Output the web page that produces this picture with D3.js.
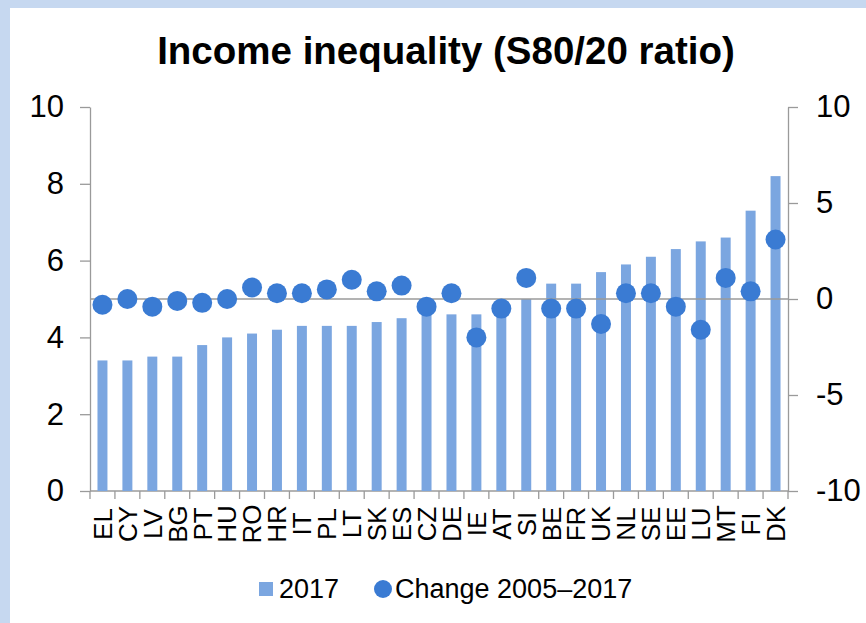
<!DOCTYPE html>
<html>
<head>
<meta charset="utf-8">
<script src="https://cdn.jsdelivr.net/npm/d3@7"></script>
<style>
  body { margin: 0; background: #fff; }
  text { font-family: "Liberation Sans", Arial, sans-serif; fill: #000; }
</style>
</head>
<body>
<svg id="canvas" width="866" height="623"></svg>
<script>
/************* Data **************/
var countries = ["EL","CY","LV","BG","PT","HU","RO","HR","IT","PL","LT","SK","ES","CZ",
                 "DE","IE","AT","SI","BE","FR","UK","NL","SE","EE","LU","MT","FI","DK"];
// S80/20 ratio in 2017 (left axis)
var ratio2017 = [3.4,3.4,3.5,3.5,3.8,4.0,4.1,4.2,4.3,4.3,4.3,4.4,4.5,4.7,
                 4.6,4.6,4.8,5.0,5.4,5.4,5.7,5.9,6.1,6.3,6.5,6.6,7.3,8.2];
// change 2005-2017 (right axis)
var change = [-0.3,0.0,-0.4,-0.1,-0.2,0.0,0.6,0.3,0.3,0.5,1.0,0.4,0.7,-0.4,
              0.3,-2.0,-0.5,1.1,-0.5,-0.5,-1.3,0.3,0.3,-0.4,-1.6,1.1,0.4,3.1];
var leftTicks = [0,2,4,6,8,10];
var rightTicks = [-10,-5,0,5,10];
var legendLabels = ["2017","Change 2005\u20132017"];

/********** Initialisation *********/
var svg = d3.select("#canvas");
var width = +svg.attr("width");
var height = +svg.attr("height");

var barColor = "#7ba6e0";
var dotColor = "#3a7bd3";
var axisColor = "#9a9a9a";

// light blue frame on the top and left
svg.append("rect").attr("x", 0).attr("y", 0).attr("width", width).attr("height", 8).attr("fill", "#c6d8f0");
svg.append("rect").attr("x", 0).attr("y", 0).attr("width", 10).attr("height", height).attr("fill", "#c6d8f0");

var plot = { left: 90, right: 788, top: 107, bottom: 491 };

/*********** Scales *************/
var x = d3.scaleBand()
    .domain(countries)
    .range([plot.left, plot.right])
    .paddingInner(0.6)
    .paddingOuter(0.3);

var yLeft = d3.scaleLinear().domain([0, 10]).range([plot.bottom, plot.top]);
var yRight = d3.scaleLinear().domain([-10, 10]).range([plot.bottom, plot.top]);

/*********** Title *************/
svg.append("text")
    .attr("x", 446)
    .attr("y", 64)
    .attr("text-anchor", "middle")
    .style("font-size", "38.5px")
    .style("font-weight", "bold")
    .text("Income inequality (S80/20 ratio)");

/*********** Axes *************/
function plainNumber(d) { return String(d); }   // hyphen minus, like the original

function styleAxis(g)
{
    g.selectAll("path, line").attr("stroke", axisColor).attr("stroke-width", 1.3);
    g.selectAll("text").style("font-size", "31px").attr("fill", "#000");
}

svg.append("g")
    .attr("transform", "translate(" + plot.left + ",0)")
    .call(d3.axisLeft(yLeft).tickValues(leftTicks).tickFormat(plainNumber)
          .tickSize(10).tickSizeOuter(0).tickPadding(16))
    .call(styleAxis);

svg.append("g")
    .attr("transform", "translate(" + plot.right + ",0)")
    .call(d3.axisRight(yRight).tickValues(rightTicks).tickFormat(plainNumber)
          .tickSize(10).tickSizeOuter(0).tickPadding(18))
    .call(styleAxis);

// category axis along the bottom
var step = x.step();
var catTicks = d3.range(countries.length + 1).map(function(i) { return plot.left + i * step; });

svg.append("line")
    .attr("x1", plot.left).attr("x2", plot.right)
    .attr("y1", plot.bottom).attr("y2", plot.bottom)
    .attr("stroke", axisColor).attr("stroke-width", 1.3);

svg.append("g")
    .selectAll("line")
    .data(catTicks)
    .enter()
    .append("line")
    .attr("x1", function(d) { return d; })
    .attr("x2", function(d) { return d; })
    .attr("y1", plot.bottom)
    .attr("y2", plot.bottom + 8)
    .attr("stroke", axisColor)
    .attr("stroke-width", 1.3);

svg.append("g")
    .selectAll("text")
    .data(countries)
    .enter()
    .append("text")
    .attr("transform", function(d) {
        return "translate(" + (x(d) + x.bandwidth() / 2) + ",524) rotate(-90)";
    })
    .attr("text-anchor", "middle")
    .attr("dy", "0.36em")
    .style("font-size", "26px")
    .text(function(d) { return d; });

/*********** Bars *************/
svg.append("g")
    .selectAll("rect")
    .data(countries)
    .enter()
    .append("rect")
    .attr("x", function(d) { return x(d); })
    .attr("width", x.bandwidth())
    .attr("y", function(d, i) { return yLeft(ratio2017[i]); })
    .attr("height", function(d, i) { return yLeft(0) - yLeft(ratio2017[i]); })
    .attr("fill", barColor);

// zero line of the secondary series
svg.append("line")
    .attr("x1", plot.left).attr("x2", plot.right)
    .attr("y1", yRight(0)).attr("y2", yRight(0))
    .attr("stroke", axisColor).attr("stroke-width", 1.3);

/*********** Dots *************/
svg.append("g")
    .selectAll("circle")
    .data(countries)
    .enter()
    .append("circle")
    .attr("cx", function(d) { return x(d) + x.bandwidth() / 2; })
    .attr("cy", function(d, i) { return yRight(change[i]); })
    .attr("r", 10)
    .attr("fill", dotColor);

/*********** Legend *************/
var legend = svg.append("g");

legend.append("rect")
    .attr("x", 259).attr("y", 582)
    .attr("width", 14).attr("height", 14)
    .attr("fill", barColor);

legend.append("text")
    .attr("x", 279).attr("y", 598)
    .style("font-size", "27px")
    .text(legendLabels[0]);

legend.append("circle")
    .attr("cx", 383).attr("cy", 589)
    .attr("r", 9)
    .attr("fill", dotColor);

legend.append("text")
    .attr("x", 395).attr("y", 598)
    .style("font-size", "27px")
    .text(legendLabels[1]);
</script>
</body>
</html>
